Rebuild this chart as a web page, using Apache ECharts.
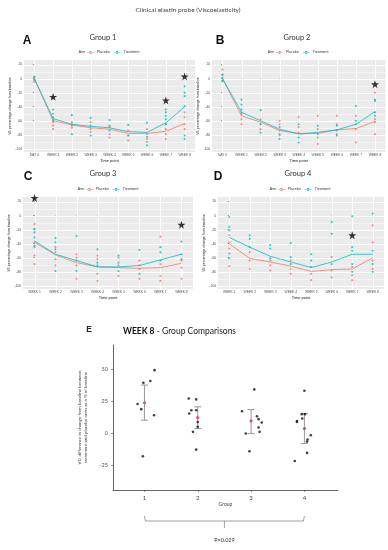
<!DOCTYPE html>
<html><head><meta charset="utf-8">
<script src="https://cdn.jsdelivr.net/npm/echarts@6/dist/echarts.min.js"></script>
<style>html,body{margin:0;padding:0;background:#fff}#c{width:388px;height:550px}</style>
</head><body><div id="c"></div>
<script>
// ---------- DATA ----------
const weeksAB = ['DAY 0','WEEK 1','WEEK 2','WEEK 3','WEEK 4','WEEK 5','WEEK 6','WEEK 7','WEEK 8'];
const weeksCD = ['WEEK 1','WEEK 2','WEEK 3','WEEK 4','WEEK 5','WEEK 6','WEEK 7','WEEK 8'];
const yTicks = [-100,-80,-60,-40,-20,0,20];
const yMinor = [-90,-70,-50,-30,-10,10];

// Group 1 (panel A)
const g1TreatMean = [0,-57,-65,-68,-70,-75.5,-76.5,-63,-40];
const g1PlacMean  = [0,-60,-66,-70,-72,-78,-78,-75,-64];
const g1TreatPts = [[2,-2],[-44,-50,-55,-60],[-52,-65,-79],[-56,-67,-81],[-59,-67,-74],[-66,-81],[-63,-83,-95],[-44,-48,-53,-58,-65],[-11,-20,-25,-39,-81,-86]];
const g1PlacPts  = [[3,-1,-5],[-58,-62,-67,-72],[-62,-67,-70],[-62,-72,-76],[-69,-79,-84],[-74,-81,-88],[-72,-79,-86,-90],[-65,-72,-79,-86],[-48,-55,-65,-72]];
const g1Stars = [[1,-26],[7,-31],[8,3]];

// Group 2 (panel B)
const g2TreatMean = [0,-48,-60,-72,-79,-76.5,-73,-65,-47];
const g2PlacMean  = [0,-53,-62,-74,-78,-78,-73,-71,-61];
const g2TreatPts = [[5,1,-3],[-30,-37,-44,-48],[-45,-65,-77],[-69,-79,-86],[-65,-84,-91],[-67,-79],[-67,-74,-81],[-39,-60,-65],[-30,-32,-48,-53]];
const g2PlacPts  = [[13,6,-4],[-51,-58,-65],[-58,-65,-72],[-60,-65,-74,-81],[-55,-69,-77],[-53,-72,-84,-93],[-53,-65,-79],[-53,-72,-91],[-20,-58,-62,-79]];
const g2Stars = [[8,-8]];

// Group 3 (panel C)
const g3TreatMean = [-36,-55,-64,-73,-73,-71,-63,-55];
const g3PlacMean  = [-38,-56,-67,-73,-74,-75,-74,-68];
const g3TreatPts = [[-19,-24,-31,-43],[-32,-38,-48,-79],[-29,-64,-79],[-48,-67,-71],[-57,-67,-79],[-49,-76,-83],[-45,-52,-64],[-37,-55,-62]];
const g3PlacPts  = [[-12,-38,-45,-57,-69],[-45,-52,-62,-71],[-55,-60,-71,-90],[-57,-62,-83,-93],[-60,-71,-86],[-64,-71,-90],[-30,-69,-86,-93],[-64,-74,-90]];
const g3Stars = [[0,25],[7,-13]];

// Group 4 (panel D)
const g4TreatMean = [-31,-45,-58,-66,-74,-66,-55,-55];
const g4PlacMean  = [-40,-61,-66,-72,-79.5,-77,-76,-60];
const g4TreatPts = [[-2,-16,-21,-54,-61],[-28,-33,-45],[-42,-47,-61],[-39,-59,-69],[-55,-64,-73],[-9,-26,-69],[-1,-45,-50,-69,-80],[3,-50,-69,-80]];
const g4PlacPts  = [[-28,-38,-47,-72],[-52,-64,-76],[-64,-71,-78],[-64,-76,-83],[-83,-92],[-59,-78,-88],[-73,-85,-92],[-14,-38,-64,-76]];
const g4Stars = [[6,-28]];

// Panel E: week 8 group comparisons
const eGroups = [1,2,3,4];
const eTicksY = [-25,0,25,50];
const eValues = [
  [49.4,41,39.5,23,19,14.3,-17.7],
  [27.3,26.6,18.2,18.2,15.6,9,5.2,1.3,-12.5],
  [34.4,17.4,13.5,11.2,8.6,4.7,1.3,0,-13.8],
  [33.3,15.1,15.1,9.8,11.7,9,-1.3,-4.7,-6.3,-15.1,-21.4]
];
const eJitter = [
  [0.19,0.11,-0.02,-0.13,-0.06,0.18,-0.03],
  [-0.17,-0.03,-0.12,-0.03,-0.16,0,0,-0.09,-0.03],
  [0.06,-0.17,0.11,0.14,0.2,0.14,0.16,-0.1,-0.03],
  [0,-0.05,0.01,-0.14,-0.04,-0.14,0.12,0.06,0.05,0.05,-0.18]
];
const eMean = [24,12.5,9.8,3.9];
const eLow  = [10.4,3.9,0,-7.8];
const eHigh = [37.8,20.8,18.7,15.6];
const pValueText = 'P=0.029';

// ---------- CHART ----------
const RED = '#F8766D', CYAN = '#00BFC4';
const FONT = '"Liberation Sans", Arial, sans-serif';
const DOC = 'Lato, "Open Sans", sans-serif';
const STAR = 'path://M12,0 L14.9,8.6 L24,8.6 L16.6,14 L19.4,22.8 L12,17.4 L4.6,22.8 L7.4,14 L0,8.6 L9.1,8.6 Z';
const KEY = 'path://M0,4.6h10v0.8h-10z M5,3a2,2 0 1,0 0.001,0z';

const grids = [], xAxes = [], yAxes = [], series = [], legends = [];

// gridline renderer: row = [kind(0 vertical / 1 horizontal), value, major(1/0)]
function renderGridLine(params, api) {
  const cs = params.coordSys;
  const kind = api.value(0), v = api.value(1), major = api.value(2);
  const style = {stroke: major ? '#FFFFFF' : '#F4F4F4', lineWidth: 1};
  if (kind === 1) {
    const y = Math.round(api.coord([0, v])[1]) + 0.5;
    return {type: 'line', shape: {x1: cs.x, y1: y, x2: cs.x + cs.width, y2: y}, style: style, silent: true};
  }
  const x = Math.round(api.coord([v, 0])[0]) + 0.5;
  return {type: 'line', shape: {x1: x, y1: cs.y, x2: x, y2: cs.y + cs.height}, style: style, silent: true};
}

function addPanel(cats, tMean, pMean, tPts, pPts, stars, pos, legendLeft, legendTop) {
  const gi = grids.length;
  grids.push({left: pos.left, width: pos.width, top: pos.top, height: pos.height,
    show: true, backgroundColor: '#EBEBEB', borderWidth: 0});
  const idx = cats.map((c, i) => i);
  xAxes.push({gridIndex: gi, type: 'value', min: -0.55, max: cats.length - 1 + 0.55,
    axisLine: {show: false},
    axisTick: {show: true, customValues: idx, length: 1.5, lineStyle: {color: '#333', width: 0.5}},
    axisLabel: {customValues: idx, formatter: v => cats[Math.round(v)] || '', fontSize: 3.3, color: '#4d4d4d', margin: 1.8, fontFamily: FONT},
    splitLine: {show: false},
    name: 'Time point', nameLocation: 'middle', nameGap: 6.5,
    nameTextStyle: {fontSize: 4, color: '#222', fontFamily: FONT}});
  const yi = yAxes.length;
  yAxes.push({gridIndex: gi, type: 'value', min: -104.5, max: 26.5, axisLine: {show: false},
    axisTick: {show: true, customValues: yTicks, length: 1.5, lineStyle: {color: '#333', width: 0.5}},
    axisLabel: {customValues: yTicks, fontSize: 3.3, color: '#4d4d4d', margin: 1.8, fontFamily: FONT},
    splitLine: {show: false},
    name: 'VE percentage change from baseline', nameLocation: 'middle', nameGap: 10,
    nameTextStyle: {fontSize: 3.5, color: '#222', fontFamily: FONT}});
  const gridRows = yMinor.map(v => [1, v, 0])
    .concat(yTicks.map(v => [1, v, 1]))
    .concat(idx.map(i => [0, i, 1]));
  series.push({type: 'custom', name: 'gridlines', xAxisIndex: gi, yAxisIndex: yi, data: gridRows,
    renderItem: renderGridLine, silent: true, z: 1, clip: false});
  const flat = pts => pts.flatMap((arr, i) => arr.map(v => [i, v]));
  series.push({type: 'line', name: 'Placebo', xAxisIndex: gi, yAxisIndex: yi, data: pMean.map((v, i) => [i, v]),
    symbol: 'circle', symbolSize: 2.5, showSymbol: false, lineStyle: {color: RED, width: 0.8}, itemStyle: {color: RED}, z: 3});
  series.push({type: 'line', name: 'Treatment', xAxisIndex: gi, yAxisIndex: yi, data: tMean.map((v, i) => [i, v]),
    symbol: 'circle', symbolSize: 2.5, showSymbol: false, lineStyle: {color: CYAN, width: 0.8}, itemStyle: {color: CYAN}, z: 3});
  series.push({type: 'scatter', name: 'Placebo', xAxisIndex: gi, yAxisIndex: yi, data: flat(pPts),
    symbolSize: 2.2, itemStyle: {color: RED}, z: 2});
  series.push({type: 'scatter', name: 'Treatment', xAxisIndex: gi, yAxisIndex: yi, data: flat(tPts),
    symbolSize: 2.2, itemStyle: {color: CYAN}, z: 2});
  series.push({type: 'scatter', name: 'sig' + gi, xAxisIndex: gi, yAxisIndex: yi, data: stars,
    symbol: STAR, symbolSize: 8, itemStyle: {color: '#000'}, z: 5, clip: false});
  legends.push({left: legendLeft, top: legendTop, data: [{name: 'Placebo', icon: KEY}, {name: 'Treatment', icon: KEY}],
    itemWidth: 7, itemHeight: 3, itemGap: 4, padding: 0, selectedMode: false,
    textStyle: {fontSize: 3.5, color: '#333', fontFamily: FONT, padding: [0, 0, 0, -2]}});
}

addPanel(weeksAB, g1TreatMean, g1PlacMean, g1TreatPts, g1PlacPts, g1Stars, {left: 24, width: 171, top: 60, height: 92}, 87, 50.5);
addPanel(weeksAB, g2TreatMean, g2PlacMean, g2TreatPts, g2PlacPts, g2Stars, {left: 212, width: 173.5, top: 60, height: 92}, 276, 50.5);
addPanel(weeksCD, g3TreatMean, g3PlacMean, g3TreatPts, g3PlacPts, g3Stars, {left: 23, width: 170, top: 197, height: 92}, 86, 187.5);
addPanel(weeksCD, g4TreatMean, g4PlacMean, g4TreatPts, g4PlacPts, g4Stars, {left: 218, width: 166, top: 197, height: 92}, 278, 187.5);

// Panel E
const eGi = grids.length;
grids.push({left: 113, width: 225, top: 345, height: 145, show: false});
xAxes.push({gridIndex: eGi, type: 'value', min: 0.41, max: 4.63,
  axisLine: {show: true, onZero: false, lineStyle: {color: '#555', width: 0.9}},
  axisTick: {show: true, customValues: eGroups, length: 2, lineStyle: {color: '#555', width: 0.6}},
  axisLabel: {customValues: eGroups, fontSize: 6, color: '#444', margin: 5, fontFamily: DOC},
  splitLine: {show: false},
  name: 'Group', nameLocation: 'middle', nameGap: 10, nameTextStyle: {fontSize: 5, color: '#444', fontFamily: DOC}});
const eYi = yAxes.length;
yAxes.push({gridIndex: eGi, type: 'value', min: -44, max: 69,
  axisLine: {show: true, onZero: false, lineStyle: {color: '#555', width: 0.9}},
  axisTick: {show: true, customValues: eTicksY, length: 2, lineStyle: {color: '#555', width: 0.6}},
  axisLabel: {customValues: eTicksY, fontSize: 5.5, color: '#555', margin: 5, fontFamily: DOC},
  splitLine: {show: false},
  name: 'VE: difference in change from baseline between\ntreatment and placebo arms as a % of baseline',
  nameLocation: 'middle', nameGap: 11, nameTextStyle: {fontSize: 4.5, color: '#444', lineHeight: 6, fontFamily: DOC}});

series.push({type: 'custom', xAxisIndex: eGi, yAxisIndex: eYi,
  data: eGroups.map((g, i) => [g, eLow[i], eHigh[i]]),
  encode: {x: 0, y: [1, 2]},
  renderItem: (params, api) => {
    const lo = api.coord([api.value(0), api.value(1)]);
    const hi = api.coord([api.value(0), api.value(2)]);
    const w = 3.5, st = {stroke: '#999', lineWidth: 1};
    return {type: 'group', children: [
      {type: 'line', shape: {x1: lo[0], y1: lo[1], x2: hi[0], y2: hi[1]}, style: st},
      {type: 'line', shape: {x1: lo[0] - w, y1: lo[1], x2: lo[0] + w, y2: lo[1]}, style: st},
      {type: 'line', shape: {x1: hi[0] - w, y1: hi[1], x2: hi[0] + w, y2: hi[1]}, style: st}
    ]};
  }, z: 2});
series.push({type: 'scatter', xAxisIndex: eGi, yAxisIndex: eYi,
  data: eValues.flatMap((arr, gi) => arr.map((v, k) => [eGroups[gi] + eJitter[gi][k], v])),
  symbolSize: 2.6, itemStyle: {color: '#111'}, z: 3});
series.push({type: 'scatter', xAxisIndex: eGi, yAxisIndex: eYi,
  data: eGroups.map((g, i) => [g, eMean[i]]),
  symbolSize: 3.2, itemStyle: {color: '#E8323C'}, z: 4});

function txt(x, y, text, size, opts) {
  return {type: 'text', x: x, y: y, silent: true,
    style: Object.assign({text: text, fontSize: size, fill: '#333', fontFamily: DOC,
      align: 'center', verticalAlign: 'middle', textAlign: 'center', textVerticalAlign: 'middle'}, opts || {})};
}

const graphics = [
  txt(188, 10, 'Clinical elastin probe (Viscoelasticity)', 6.5, {fill: '#444'}),
  txt(27, 41, 'A', 12, {fontWeight: 'bold', fill: '#111', fontFamily: FONT}),
  txt(220, 41, 'B', 12, {fontWeight: 'bold', fill: '#111', fontFamily: FONT}),
  txt(28, 177, 'C', 12, {fontWeight: 'bold', fill: '#111', fontFamily: FONT}),
  txt(218, 177, 'D', 12, {fontWeight: 'bold', fill: '#111', fontFamily: FONT}),
  txt(103, 38, 'Group 1', 7.5, {fill: '#333'}),
  txt(297, 38, 'Group 2', 7.5, {fill: '#333'}),
  txt(103, 173.5, 'Group 3', 7.5, {fill: '#333'}),
  txt(298, 173.5, 'Group 4', 7.5, {fill: '#333'}),
  txt(82, 52, 'Arm', 3.5, {fontFamily: FONT}),
  txt(271, 52, 'Arm', 3.5, {fontFamily: FONT}),
  txt(81, 189, 'Arm', 3.5, {fontFamily: FONT}),
  txt(273, 189, 'Arm', 3.5, {fontFamily: FONT}),
  txt(89, 330, 'E', 8.5, {fontWeight: 'bold', fill: '#222', fontFamily: FONT}),
  txt(123, 331, '{b|WEEK 8} - Group Comparisons', 8.5, {align: 'left', textAlign: 'left', fill: '#222',
    rich: {b: {fontWeight: 'bold', fontSize: 8.5, fontFamily: DOC, fill: '#111'}}})
];

const chart = echarts.init(document.getElementById('c'), null, {renderer: 'canvas'});
chart.setOption({
  animation: false,
  backgroundColor: '#fff',
  textStyle: {fontFamily: FONT},
  grid: grids, xAxis: xAxes, yAxis: yAxes, legend: legends, series: series,
  graphic: graphics
});

// bracket under panel E, placed from the axis scale
const p1 = chart.convertToPixel({xAxisIndex: eGi, yAxisIndex: eYi}, [eGroups[0], 0]);
const p4 = chart.convertToPixel({xAxisIndex: eGi, yAxisIndex: eYi}, [eGroups[eGroups.length - 1], 0]);
const xm = (p1[0] + p4[0]) / 2;
const bs = {stroke: '#888', lineWidth: 0.8, fill: null};
graphics.push({type: 'polyline', silent: true, shape: {points: [[p1[0], 516], [p1[0] + 1, 521], [p4[0] - 1, 521], [p4[0], 516]]}, style: bs});
graphics.push({type: 'polyline', silent: true, shape: {points: [[xm, 521], [xm, 528]]}, style: bs});
graphics.push(txt(xm, 540, pValueText, 5.5, {fill: '#333'}));
chart.setOption({graphic: graphics});
</script>
</body></html>
